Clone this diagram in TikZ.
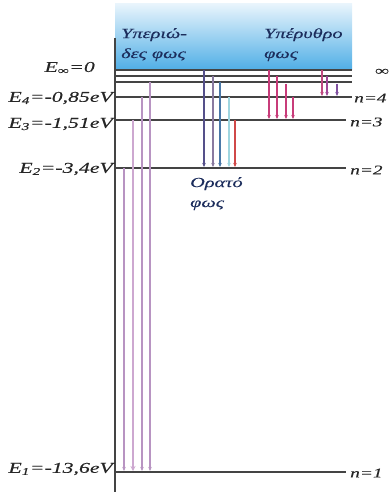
\documentclass[tikz,border=0pt]{standalone}
\usepackage{fontspec}
\setmainfont{Liberation Serif}
\newfontfamily\labfont[FakeStretch=1.45,FakeBold=0.25]{Liberation Serif}
\usetikzlibrary{arrows.meta}
\definecolor{navy}{HTML}{1C2D5C}
\definecolor{lvl}{HTML}{444444}
\definecolor{boxtop}{HTML}{E8F4FC}
\definecolor{boxbot}{HTML}{4FAEE6}
\definecolor{lym}{HTML}{B894C2}
\definecolor{lymthick}{HTML}{CDA8D0}
\definecolor{balA}{HTML}{55508A}
\definecolor{balB}{HTML}{8A7AA0}
\definecolor{balC}{HTML}{4A78A8}
\definecolor{balD}{HTML}{9FD6E0}
\definecolor{balE}{HTML}{D04848}
\definecolor{pas}{HTML}{C83C7A}
\definecolor{brA}{HTML}{C04A80}
\definecolor{brB}{HTML}{A04898}
\definecolor{brC}{HTML}{8050A0}
\begin{document}
\begin{tikzpicture}[x=1pt,y=-1pt,
  level/.style={draw=lvl, line width=1.3pt},
  elabel/.style={anchor=east, inner sep=0pt, font=\labfont\itshape\fontsize{15}{17}\selectfont, text=black!85},
  nlabel/.style={anchor=west, inner sep=0pt, font=\labfont\itshape\fontsize{13.3}{15}\selectfont, text=black!85},
  series/.style={anchor=north west, inner sep=0pt, align=left, font=\labfont\itshape\fontsize{14}{20}\selectfont, text=navy},
  trans/.style={line width=1.3pt, -{Stealth[length=4pt,width=3.5pt]}, shorten >=1pt}
]
\useasboundingbox (0,0) rectangle (388,492);
% blue box
\shade[top color=boxtop, bottom color=boxbot] (115,4) rectangle (352,70);
% axis
\coordinate (axtop) at (115,38);
\coordinate (axbot) at (115,492);
\draw[lvl, line width=1.3pt] (axtop) -- (axbot);
% levels
\coordinate (iA0) at (115,70);  \coordinate (iA1) at (352,70);
\coordinate (iB0) at (115,76);  \coordinate (iB1) at (352,76);
\coordinate (iC0) at (115,82);  \coordinate (iC1) at (352,82);
\coordinate (l40) at (115,97);  \coordinate (l41) at (352,97);
\coordinate (l30) at (115,120); \coordinate (l31) at (346,120);
\coordinate (l20) at (115,168); \coordinate (l21) at (346,168);
\coordinate (l10) at (115,472); \coordinate (l11) at (346,472);
\draw[level] (iA0) -- (iA1);
\draw[level] (iB0) -- (iB1);
\draw[level] (iC0) -- (iC1);
\draw[level] (l40) -- (l41);
\draw[level] (l30) -- (l31);
\draw[level] (l20) -- (l21);
\draw[level] (l10) -- (l11);
% left labels
\node[elabel] (einf) at (95,68) {E\textsubscript{∞}=0};
\node[elabel] (e4) at (113,98) {E\textsubscript{4}=-0,85eV};
\node[elabel] (e3) at (113,124) {E\textsubscript{3}=-1,51eV};
\node[elabel] (e2) at (113,169) {E\textsubscript{2}=-3,4eV};
\node[elabel] (e1) at (113,469) {E\textsubscript{1}=-13,6eV};
% right labels
\node[nlabel] (ninf) at (375,72) {∞};
\node[nlabel] (n4) at (354,98) {n=4};
\node[nlabel] (n3) at (350,122) {n=3};
\node[nlabel] (n2) at (350,170) {n=2};
\node[nlabel] (n1) at (350,473) {n=1};
% series labels
\node[series] (uv) at (121,28) {Υπεριώ-\\δες φως};
\node[series] (ir) at (264,28) {Υπέρυθρο\\φως};
\node[series] (vis) at (190,177) {Ορατό\\φως};
% Lyman
\coordinate (ly1s) at (124,168); \coordinate (ly1e) at (124,472);
\coordinate (ly2s) at (133,120); \coordinate (ly2e) at (133,472);
\coordinate (ly3s) at (142,97);  \coordinate (ly3e) at (142,472);
\coordinate (ly4s) at (150,82);  \coordinate (ly4e) at (150,472);
\draw[trans, lym] (ly1s) -- (ly1e);
\draw[trans, lymthick, line width=2.6pt, -{Stealth[length=5pt,width=5pt]}] (ly2s) -- (ly2e);
\draw[trans, lym] (ly3s) -- (ly3e);
\draw[trans, lym] (ly4s) -- (ly4e);
% Balmer
\coordinate (ba1s) at (204,70);  \coordinate (ba1e) at (204,168);
\coordinate (ba2s) at (213,76);  \coordinate (ba2e) at (213,168);
\coordinate (ba3s) at (220,82);  \coordinate (ba3e) at (220,168);
\coordinate (ba4s) at (229,97);  \coordinate (ba4e) at (229,168);
\coordinate (ba5s) at (235,120); \coordinate (ba5e) at (235,168);
\draw[trans, balA] (ba1s) -- (ba1e);
\draw[trans, balB] (ba2s) -- (ba2e);
\draw[trans, balC] (ba3s) -- (ba3e);
\draw[trans, balD] (ba4s) -- (ba4e);
\draw[trans, balE] (ba5s) -- (ba5e);
% Paschen
\coordinate (pa1s) at (269,70); \coordinate (pa1e) at (269,120);
\coordinate (pa2s) at (277,76); \coordinate (pa2e) at (277,120);
\coordinate (pa3s) at (286,84); \coordinate (pa3e) at (286,120);
\coordinate (pa4s) at (293,97); \coordinate (pa4e) at (293,120);
\draw[trans, pas] (pa1s) -- (pa1e);
\draw[trans, pas] (pa2s) -- (pa2e);
\draw[trans, pas] (pa3s) -- (pa3e);
\draw[trans, pas] (pa4s) -- (pa4e);
% Brackett
\coordinate (br1s) at (322,70); \coordinate (br1e) at (322,97);
\coordinate (br2s) at (327,76); \coordinate (br2e) at (327,97);
\coordinate (br3s) at (337,84); \coordinate (br3e) at (337,97);
\draw[trans, brA] (br1s) -- (br1e);
\draw[trans, brB] (br2s) -- (br2e);
\draw[trans, brC] (br3s) -- (br3e);
\end{tikzpicture}
\end{document}
